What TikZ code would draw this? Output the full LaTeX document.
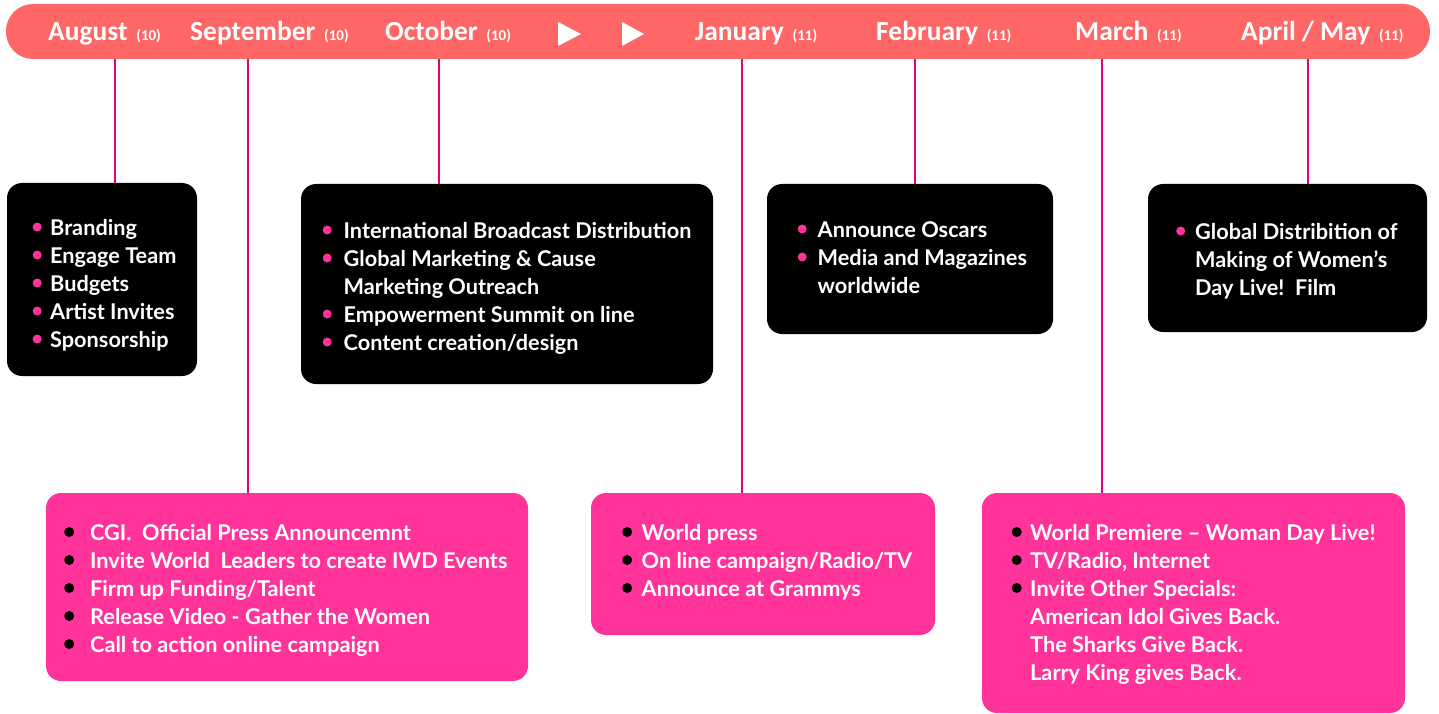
\documentclass[tikz,border=0pt]{standalone}
\usepackage{fontspec}
\setmainfont{Lato}
\newfontfamily\hdfont{Carlito}
\definecolor{barred}{RGB}{255,102,102}
\definecolor{boxpink}{RGB}{255,51,153}
\definecolor{linepink}{RGB}{228,0,124}
\definecolor{dotpink}{RGB}{255,51,153}
\newcommand\bdot[3]{\makebox[#1][l]{\tikz[baseline=-8pt]\fill[#2] (0pt,0pt) circle (#3);}}
\newenvironment{lines}{\begin{tabular}[t]{@{}l@{}}}{\end{tabular}}
\begin{document}
\begin{tikzpicture}[x=1pt,y=-1pt,
  month/.style={anchor=base west,inner sep=0pt,text=white,font=\hdfont\bfseries\fontsize{27.5}{30}\selectfont},
  blackbox/.style={fill=black,rounded corners=15pt},
  pinkbox/.style={fill=boxpink,rounded corners=15pt},
  txt/.style={anchor=base west,inner sep=0pt,text=white,font=\bfseries\fontsize{21.7}{28}\selectfont},
  conn/.style={draw=linepink,line width=2pt},
  tri/.style={fill=white}]
\useasboundingbox (0,0) rectangle (1439,714);
% header bar
\fill[barred,rounded corners=27pt] (6,4) rectangle (1430,59);
\newcommand\num[1]{{\fontsize{15}{16}\selectfont\,(#1)}}
\node[month] (aug) at (48,41) {August \num{10}};
\node[month] (sep) at (190,41) {September \num{10}};
\node[month] (oct) at (385,41) {October \num{10}};
\fill[tri] (558,22) -- (581,34) -- (558,46) -- cycle;
\fill[tri] (622,22) -- (644,34) -- (622,46) -- cycle;
\node[month] (jan) at (695,41) {January \num{11}};
\node[month] (feb) at (876,41) {February \num{11}};
\node[month] (mar) at (1075,41) {March \num{11}};
\node[month] (apr) at (1241,41) {April / May \num{11}};
% tick coordinates on bar
\coordinate (t1) at (115,59);
\coordinate (t2) at (248,59);
\coordinate (t3) at (439,59);
\coordinate (t4) at (742,59);
\coordinate (t5) at (915,59);
\coordinate (t6) at (1102,59);
\coordinate (t7) at (1308,59);
% boxes
\path[blackbox] (7,183) rectangle (197,376);
\node[inner sep=0pt,minimum width=190pt,minimum height=193pt] (b1) at (102,279.5) {};
\path[blackbox] (301,184) rectangle (713,384);
\node[inner sep=0pt,minimum width=412pt,minimum height=200pt] (b2) at (507,284) {};
\path[blackbox] (767,184) rectangle (1053,334);
\node[inner sep=0pt,minimum width=286pt,minimum height=150pt] (b3) at (910,259) {};
\path[blackbox] (1148,184) rectangle (1427,332);
\node[inner sep=0pt,minimum width=279pt,minimum height=148pt] (b4) at (1287.5,258) {};
\path[pinkbox] (46,493) rectangle (528,681);
\node[inner sep=0pt,minimum width=482pt,minimum height=188pt] (p1) at (287,587) {};
\path[pinkbox] (591,493) rectangle (935,635);
\node[inner sep=0pt,minimum width=344pt,minimum height=142pt] (p2) at (763,564) {};
\path[pinkbox] (982,493) rectangle (1405,713);
\node[inner sep=0pt,minimum width=423pt,minimum height=220pt] (p3) at (1193.5,603) {};
% connectors
\draw[conn] (t1) -- (t1 |- b1.north);
\draw[conn] (t2) -- (t2 |- p1.north);
\draw[conn] (t3) -- (t3 |- b2.north);
\draw[conn] (t4) -- (t4 |- p2.north);
\draw[conn] (t5) -- (t5 |- b3.north);
\draw[conn] (t6) -- (t6 |- p3.north);
\draw[conn] (t7) -- (t7 |- b4.north);
% texts
\newcommand\pd{\bdot{17.5pt}{dotpink}{4.5pt}}
\node[txt] (b1t) at (32.5,235) {\begin{lines}\pd Branding\\\pd Engage Team\\\pd Budgets\\\pd Artist Invites\\\pd Sponsorship\end{lines}};
\newcommand\pdb{\bdot{21pt}{dotpink}{4.5pt}}
\node[txt] (b2t) at (322.5,238) {\begin{lines}\pdb International Broadcast Distribution\\\pdb Global Marketing \& Cause\\\hspace*{21pt}Marketing Outreach\\\pdb Empowerment Summit on line\\\pdb Content creation/design\end{lines}};
\newcommand\pdc{\bdot{20pt}{dotpink}{4.5pt}}
\node[txt] (b3t) at (797.5,237) {\begin{lines}\pdc Announce Oscars\\\pdc Media and Magazines\\\hspace*{20pt}worldwide\end{lines}};
\newcommand\pdd{\bdot{19pt}{dotpink}{4.5pt}}
\node[txt] (b4t) at (1176,239) {\begin{lines}\pdd Global Distribition of\\\hspace*{19pt}Making of Women's\\\hspace*{19pt}Day Live!\ \ Film\end{lines}};
\newcommand\kda{\bdot{26pt}{black}{5pt}}
\node[txt] (p1t) at (64,540) {\begin{lines}\kda CGI.\ \ Official Press Announcemnt\\\kda Invite World\ \ Leaders to create IWD Events\\\kda Firm up Funding/Talent\\\kda Release Video - Gather the Women\\\kda Call to action online campaign\end{lines}};
\newcommand\kdb{\bdot{19.5pt}{black}{5pt}}
\node[txt] (p2t) at (622,540) {\begin{lines}\kdb World press\\\kdb On line campaign/Radio/TV\\\kdb Announce at Grammys\end{lines}};
\newcommand\kdc{\bdot{18.5pt}{black}{5pt}}
\node[txt] (p3t) at (1011.5,540) {\begin{lines}\kdc World Premiere -- Woman Day Live!\\\kdc TV/Radio, Internet\\\kdc Invite Other Specials:\\\hspace*{18.5pt}American Idol Gives Back.\\\hspace*{18.5pt}The Sharks Give Back.\\\hspace*{18.5pt}Larry King gives Back.\end{lines}};
\end{tikzpicture}
\end{document}
